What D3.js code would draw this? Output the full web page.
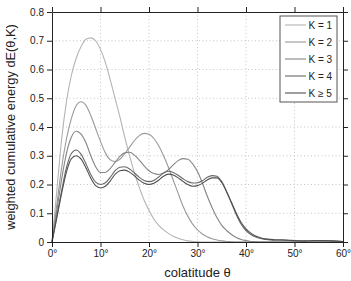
<!DOCTYPE html>
<html>
<head>
<meta charset="utf-8">
<script src="https://cdn.jsdelivr.net/npm/d3@7"></script>
<style>
  html, body { margin: 0; padding: 0; background: #fff; }
  svg { display: block; font-family: "Liberation Sans", Arial, sans-serif; }
</style>
</head>
<body>
<svg id="chart" width="351" height="281"></svg>
<script>
// colatitude in degrees, sample points
const theta = [0,1,2,3,4,5,6,7,8,9,10,11,12,13,14,15,16,17,18,19,20,21,22,23,24,25,26,27,28,29,30,
  31,32,33,34,35,36,37,38,39,40,41,42,43,44,45,46,47,48,49,50,52,54,56,58,60];

// weighted cumulative energy per K
const k1 = [0,0.18,0.36,0.49,0.58,0.64,0.68,0.705,0.71,0.70,0.67,0.625,0.565,0.50,0.435,0.365,0.30,0.24,0.19,0.145,0.11,
  0.08,0.058,0.042,0.03,0.02,0.013,0.008,0.004,0.002,0.001,0,0,0,0,0,0,0,0,0,0,0,0,0,0,0,0,0,0,0,0,0,0,0,0,0];
const k2 = [0,0.13,0.26,0.36,0.43,0.475,0.488,0.475,0.44,0.395,0.35,0.31,0.286,0.28,0.288,0.307,0.33,0.353,0.37,0.378,0.375,
  0.36,0.335,0.30,0.26,0.215,0.17,0.125,0.09,0.062,0.042,0.028,0.018,0.011,0.007,0.004,0.002,0.001,0,0,0,0,0,0,0,0,0,0,0,0,0,0,0,0,0,0];
const k3 = [0,0.11,0.22,0.31,0.365,0.385,0.375,0.345,0.30,0.262,0.242,0.242,0.255,0.277,0.298,0.31,0.312,0.302,0.285,0.265,0.248,
  0.238,0.235,0.24,0.252,0.268,0.283,0.29,0.288,0.272,0.245,0.205,0.16,0.12,0.085,0.058,0.04,0.026,0.016,0.009,0.005,
  0.002,0.001,0,0,0,0,0,0,0,0,0,0,0,0,0];
const k4 = [0,0.09,0.18,0.26,0.308,0.32,0.305,0.272,0.235,0.208,0.20,0.206,0.225,0.248,0.26,0.262,0.254,0.24,0.225,0.214,0.21,
  0.214,0.226,0.24,0.246,0.242,0.232,0.22,0.21,0.205,0.206,0.213,0.225,0.231,0.229,0.21,0.175,0.135,0.095,0.062,0.04,
  0.026,0.017,0.012,0.009,0.007,0.006,0.006,0.006,0.005,0.004,0.003,0.004,0.004,0.003,0.002];
const k5 = [0,0.085,0.17,0.245,0.29,0.30,0.288,0.258,0.222,0.196,0.188,0.194,0.212,0.235,0.248,0.25,0.243,0.23,0.215,0.204,0.20,
  0.204,0.215,0.229,0.236,0.233,0.223,0.211,0.20,0.194,0.196,0.204,0.216,0.223,0.223,0.207,0.175,0.138,0.10,0.068,0.046,
  0.031,0.021,0.015,0.011,0.009,0.008,0.008,0.007,0.006,0.005,0.004,0.005,0.005,0.004,0.002];

const seriesNames = ['K = 1', 'K = 2', 'K = 3', 'K = 4', 'K \u2265 5'];
const seriesValues = [k1, k2, k3, k4, k5];
const seriesColors = ['#b4b4b4', '#9a9a9a', '#858585', '#686868', '#505050'];

const xTicks = [0, 10, 20, 30, 40, 50, 60];
const yTicks = [0, 0.1, 0.2, 0.3, 0.4, 0.5, 0.6, 0.7, 0.8];

const svg = d3.select('#chart');
const margin = { top: 12, right: 8, bottom: 39, left: 52 };
const width = 351 - margin.left - margin.right;
const height = 281 - margin.top - margin.bottom;

const g = svg.append('g').attr('transform', `translate(${margin.left},${margin.top})`);

const x = d3.scaleLinear().domain([0, 60]).range([0, width]);
const y = d3.scaleLinear().domain([0, 0.8]).range([height, 0]);

// dotted grid
g.append('g').selectAll('line').data(xTicks.slice(1, -1)).enter().append('line')
    .attr('x1', d => x(d)).attr('x2', d => x(d)).attr('y1', 0).attr('y2', height)
    .attr('stroke', '#b8b8b8').attr('stroke-width', 0.8).attr('stroke-dasharray', '1,2.5');
g.append('g').selectAll('line').data(yTicks.slice(1, -1)).enter().append('line')
    .attr('y1', d => y(d)).attr('y2', d => y(d)).attr('x1', 0).attr('x2', width)
    .attr('stroke', '#b8b8b8').attr('stroke-width', 0.8).attr('stroke-dasharray', '1,2.5');

// curves
const line = d3.line()
    .x((d, i) => x(theta[i]))
    .y(d => y(d))
    .curve(d3.curveMonotoneX);

seriesValues.forEach((vals, i) => {
    g.append('path').datum(vals)
        .attr('fill', 'none')
        .attr('stroke', seriesColors[i])
        .attr('stroke-width', 1.1)
        .attr('d', line);
});

// axes (ticks pointing outwards, full box)
function styleAxis(sel) {
    sel.select('.domain').attr('stroke', '#222');
    sel.selectAll('.tick line').attr('stroke', '#222');
    sel.selectAll('text').attr('fill', '#222').style('font-size', '10px')
        .style('font-family', '"Liberation Sans", Arial, sans-serif');
}

g.append('g').attr('transform', `translate(0,${height})`)
    .call(d3.axisBottom(x).tickValues(xTicks).tickSize(5).tickSizeOuter(0).tickPadding(3).tickFormat(d => d + '\u00b0'))
    .call(styleAxis);
g.append('g')
    .call(d3.axisLeft(y).tickValues(yTicks).tickSize(5).tickSizeOuter(0).tickPadding(3).tickFormat(d => d3.format('')(+d.toFixed(1))))
    .call(styleAxis);
g.append('g')
    .call(d3.axisTop(x).tickValues(xTicks).tickSize(5).tickSizeOuter(0).tickFormat(''))
    .call(styleAxis);
g.append('g').attr('transform', `translate(${width},0)`)
    .call(d3.axisRight(y).tickValues(yTicks).tickSize(5).tickSizeOuter(0).tickFormat(''))
    .call(styleAxis);

// axis titles
svg.append('text')
    .attr('x', margin.left + width / 2).attr('y', 277)
    .attr('text-anchor', 'middle').attr('fill', '#222')
    .style('font-size', '13px').text('colatitude \u03b8');
svg.append('text')
    .attr('transform', `translate(15,${margin.top + height / 2}) rotate(-90)`)
    .attr('text-anchor', 'middle').attr('fill', '#222')
    .style('font-size', '12.8px').text('weighted cumulative energy dE(\u03b8,K)');

// legend
const lg = svg.append('g').attr('transform', 'translate(280,16)');
lg.append('rect').attr('width', 57).attr('height', 86)
    .attr('fill', '#fff').attr('stroke', '#555').attr('stroke-width', 1);
seriesNames.forEach((name, i) => {
    const yy = 9 + i * 17;
    lg.append('line').attr('x1', 5).attr('x2', 26).attr('y1', yy).attr('y2', yy)
        .attr('stroke', seriesColors[i]).attr('stroke-width', 1.1);
    lg.append('text').attr('x', 28.5).attr('y', yy + 3.6)
        .attr('fill', '#222').style('font-size', '10px').text(name);
});
</script>
</body>
</html>
